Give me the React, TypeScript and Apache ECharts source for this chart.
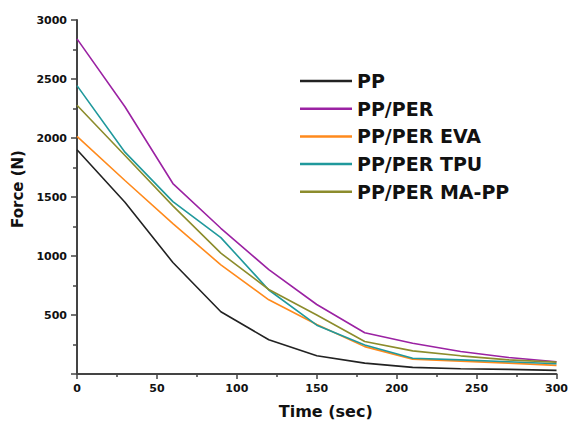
import React, { useEffect, useRef } from "react";
import * as echarts from "echarts";

const times = [0, 30, 60, 90, 120, 150, 180, 210, 240, 270, 300];
const seriesNames = ["PP", "PP/PER", "PP/PER EVA", "PP/PER TPU", "PP/PER MA-PP"];
const pp = [1900, 1455, 945, 528, 290, 154, 92, 56, 45, 39, 31];
const ppPer = [2840, 2265, 1614, 1235, 884, 589, 350, 260, 190, 140, 104];
const ppPerEva = [2014, 1640, 1275, 925, 629, 420, 232, 126, 109, 92, 73];
const ppPerTpu = [2444, 1880, 1461, 1156, 712, 414, 246, 134, 120, 104, 87];
const ppPerMaPp = [2277, 1852, 1425, 1024, 716, 500, 276, 196, 154, 120, 101];
const colors = ["#222222", "#9b22a3", "#ff8a1c", "#20999c", "#8c8c2c"];
const yTicks = [500, 1000, 1500, 2000, 2500, 3000];

const allValues = [pp, ppPer, ppPerEva, ppPerTpu, ppPerMaPp];

export default function App() {
  const ref = useRef<HTMLDivElement>(null);
  useEffect(() => {
    if (!ref.current) return;
    const chart = echarts.init(ref.current, null, { renderer: "svg" });
    const font = "'DejaVu Sans', Verdana, sans-serif";
    chart.setOption({
      animation: false,
      backgroundColor: "#ffffff",
      grid: { left: 77, right: 14, top: 20, bottom: 46 },
      legend: {
        orient: "vertical",
        left: 300,
        top: 71,
        padding: 0,
        icon: "rect",
        itemWidth: 52,
        itemHeight: 2.5,
        itemGap: 7.7,
        data: seriesNames,
        textStyle: {
          fontFamily: font,
          fontWeight: "bold",
          fontSize: 19,
          color: "#111",
          lineHeight: 20,
        },
      },
      xAxis: {
        type: "value",
        min: 0,
        max: 300,
        interval: 50,
        name: "Time (sec)",
        nameLocation: "middle",
        nameGap: 29,
        nameTextStyle: {
          fontFamily: font,
          fontWeight: "bold",
          fontSize: 16,
          color: "#111",
          padding: [0, 0, 0, 18],
        },
        axisLine: { show: true, lineStyle: { color: "#444", width: 2 } },
        axisTick: { show: true, length: 5, lineStyle: { color: "#444", width: 1.5 } },
        minorTick: { show: true, splitNumber: 2, length: 3, lineStyle: { color: "#444", width: 1.5 } },
        axisLabel: {
          fontFamily: font,
          fontWeight: "bold",
          fontSize: 11,
          color: "#111",
          margin: 9,
        },
        splitLine: { show: false },
      },
      yAxis: {
        type: "value",
        min: 0,
        max: 3000,
        interval: 500,
        name: "Force (N)",
        nameLocation: "middle",
        nameGap: 50,
        nameTextStyle: {
          fontFamily: font,
          fontWeight: "bold",
          fontSize: 15,
          color: "#111",
          padding: [0, 0, 0, 16],
        },
        axisLine: { show: true, lineStyle: { color: "#444", width: 2 } },
        axisTick: { show: true, length: 6, lineStyle: { color: "#444", width: 1.5 } },
        minorTick: { show: true, splitNumber: 2, length: 4, lineStyle: { color: "#444", width: 1.5 } },
        axisLabel: {
          fontFamily: font,
          fontWeight: "bold",
          fontSize: 11,
          color: "#111",
          margin: 10,
          formatter: (v: number) => (yTicks.includes(v) ? String(v) : ""),
        },
        splitLine: { show: false },
      },
      series: seriesNames.map((name, i) => ({
        name,
        type: "line",
        symbol: "none",
        data: times.map((t, j) => [t, allValues[i][j]]),
        lineStyle: { color: colors[i], width: 1.6 },
        itemStyle: { color: colors[i] },
      })),
    });
    return () => chart.dispose();
  }, []);
  return (
    <div
      ref={ref}
      style={{ position: "fixed", left: 0, top: 0, width: 571, height: 424 }}
    />
  );
}
